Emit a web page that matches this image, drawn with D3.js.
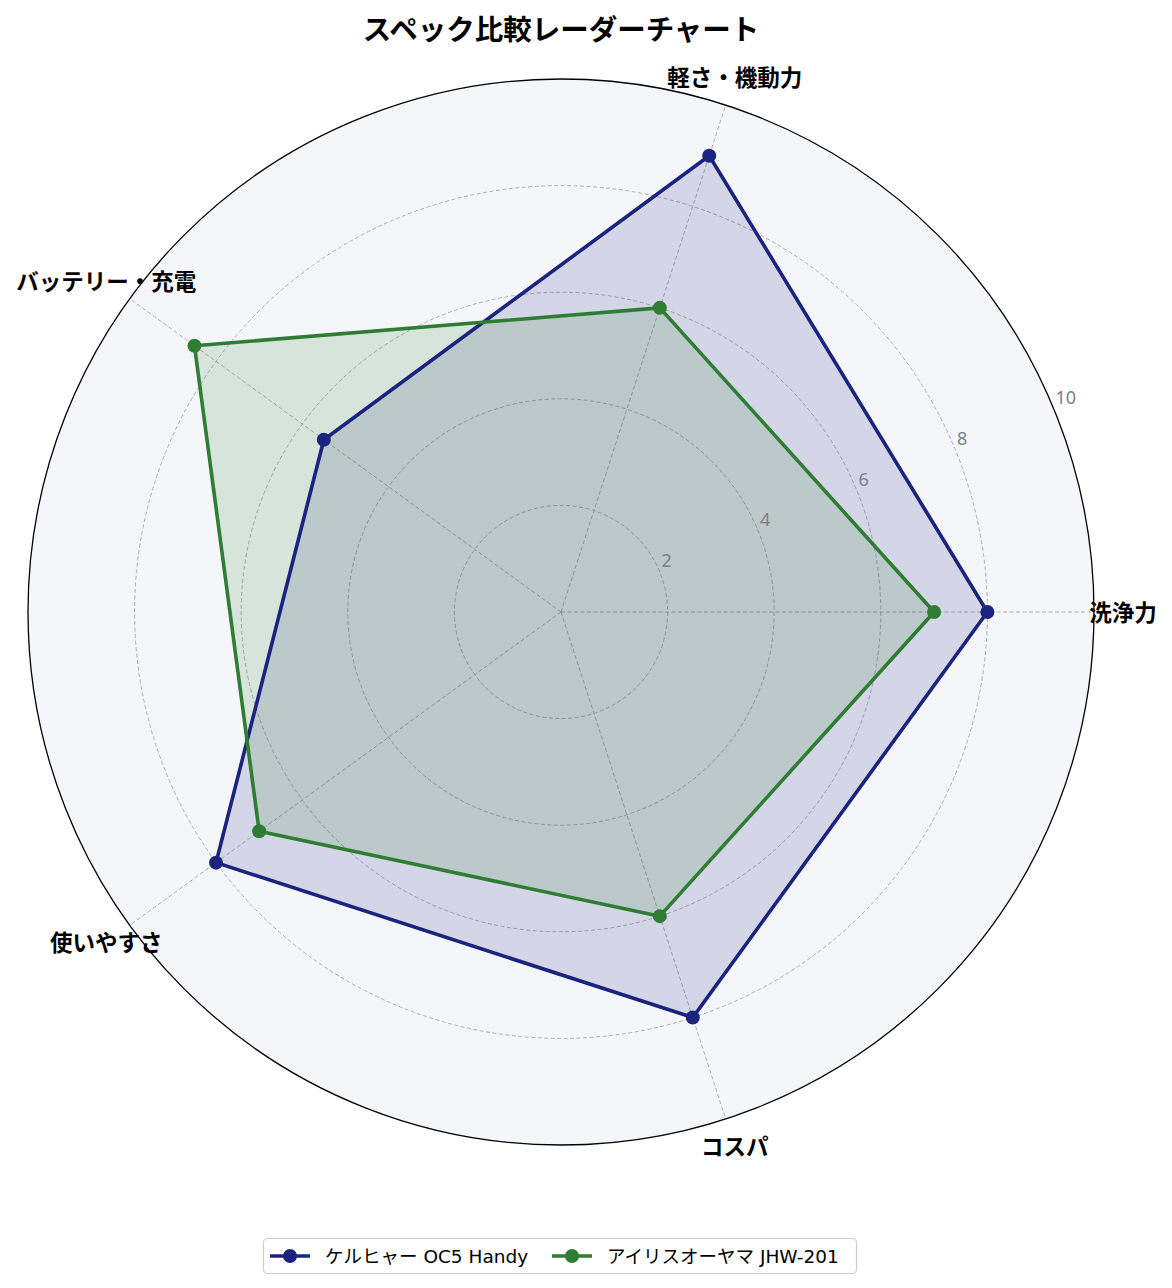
<!DOCTYPE html>
<html>
<head>
<meta charset="utf-8">
<script src="https://cdn.jsdelivr.net/npm/d3@7"></script>
<style>
  html, body { margin: 0; padding: 0; background: #fff; }
  svg { display: block; font-family: "Noto Sans", "Noto Sans CJK JP", sans-serif; }
  .legend-text { font-family: "DejaVu Sans", "Noto Sans CJK JP", sans-serif; }
</style>
</head>
<body>
<div id="chart"></div>
<script>
// ---------- Data ----------
const TITLE = "スペック比較レーダーチャート";
const CATEGORIES = ["洗浄力", "軽さ・機動力", "バッテリー・充電", "使いやすさ", "コスパ"];
const SERIES_NAMES = ["ケルヒャー OC5 Handy", "アイリスオーヤマ JHW-201"];
const KARCHER = [8, 9, 5.5, 8, 8];
const IRIS = [7, 6, 8.5, 7, 6];
const R_TICKS = [2, 4, 6, 8, 10];
const R_MAX = 10;

const COLORS = ["#1a237e", "#2e7d32"];

// ---------- Layout ----------
const width = 1172, height = 1288;
const cx = 561, cy = 612, R = 533;

const svg = d3.select("#chart").append("svg")
  .attr("width", width).attr("height", height);

const r = d3.scaleLinear().domain([0, R_MAX]).range([0, R]);
// angle 0 points right, categories go counter-clockwise
const angle = d3.scaleLinear().domain([0, CATEGORIES.length]).range([0, 2 * Math.PI]);
const px = (i, v) => cx + r(v) * Math.cos(angle(i));
const py = (i, v) => cy - r(v) * Math.sin(angle(i));

// background disc
svg.append("circle")
  .attr("cx", cx).attr("cy", cy).attr("r", r(R_MAX))
  .attr("fill", "#f5f6fa");

// grid circles
svg.append("g").selectAll("circle")
  .data(R_TICKS.filter(t => t < R_MAX))
  .join("circle")
    .attr("cx", cx).attr("cy", cy)
    .attr("r", d => r(d))
    .attr("fill", "none")
    .attr("stroke", "#a6a6a6")
    .attr("stroke-width", 0.9)
    .attr("stroke-dasharray", "4,2.5");

// spokes
svg.append("g").selectAll("line")
  .data(CATEGORIES)
  .join("line")
    .attr("x1", cx).attr("y1", cy)
    .attr("x2", (d, i) => px(i, R_MAX))
    .attr("y2", (d, i) => py(i, R_MAX))
    .attr("stroke", "#a6a6a6")
    .attr("stroke-width", 0.9)
    .attr("stroke-dasharray", "4,2.5");

// series polygons
const line = d3.line().curve(d3.curveLinearClosed);
[KARCHER, IRIS].forEach((vals, s) => {
  const pts = vals.map((v, i) => [px(i, v), py(i, v)]);
  svg.append("path")
    .attr("d", line(pts))
    .attr("fill", COLORS[s])
    .attr("fill-opacity", 0.15)
    .attr("stroke", "none");
});
[KARCHER, IRIS].forEach((vals, s) => {
  const pts = vals.map((v, i) => [px(i, v), py(i, v)]);
  svg.append("path")
    .attr("d", line(pts))
    .attr("fill", "none")
    .attr("stroke", COLORS[s])
    .attr("stroke-width", 3.6)
    .attr("stroke-linejoin", "round");
  svg.append("g").selectAll("circle")
    .data(pts)
    .join("circle")
      .attr("cx", d => d[0]).attr("cy", d => d[1])
      .attr("r", 7)
      .attr("fill", COLORS[s]);
});

// outer frame
svg.append("circle")
  .attr("cx", cx).attr("cy", cy).attr("r", r(R_MAX))
  .attr("fill", "none")
  .attr("stroke", "#000")
  .attr("stroke-width", 1.3);

// radial tick labels (at 22.5deg)
const labAng = 22.5 * Math.PI / 180;
svg.append("g").selectAll("text")
  .data(R_TICKS)
  .join("text")
    .attr("x", d => cx + r(d) * Math.cos(labAng) + 2)
    .attr("y", d => cy - r(d) * Math.sin(labAng) - 4)
    .attr("text-anchor", "start")
    .attr("font-size", 18)
    .attr("fill", "#808080")
    .text(d => d);

// category labels
svg.append("g").selectAll("text")
  .data(CATEGORIES)
  .join("text")
    .attr("x", (d, i) => cx + 562 * Math.cos(angle(i)))
    .attr("y", (d, i) => cy - 562 * Math.sin(angle(i)))
    .attr("text-anchor", "middle")
    .attr("dominant-baseline", "central")
    .attr("font-size", 22.5)
    .attr("font-weight", "bold")
    .attr("fill", "#000")
    .text(d => d);

// title
svg.append("text")
  .attr("x", cx).attr("y", 29)
  .attr("text-anchor", "middle")
  .attr("dominant-baseline", "central")
  .attr("font-size", 28.5)
  .attr("font-weight", "bold")
  .text(TITLE);

// legend
const legend = svg.append("g");
legend.append("rect")
  .attr("x", 263.5).attr("y", 1238.5)
  .attr("width", 593).attr("height", 35)
  .attr("rx", 4)
  .attr("fill", "#fff")
  .attr("stroke", "#cccccc")
  .attr("stroke-width", 1.2);
const LEG_X = [270, 552];
SERIES_NAMES.forEach((name, s) => {
  const g = legend.append("g").attr("transform", `translate(${LEG_X[s]},1256)`);
  g.append("line")
    .attr("x1", 0).attr("x2", 40)
    .attr("stroke", COLORS[s]).attr("stroke-width", 3.6);
  g.append("circle").attr("cx", 20).attr("r", 7).attr("fill", COLORS[s]);
  g.append("text")
    .attr("class", "legend-text")
    .attr("x", 55).attr("y", 0)
    .attr("dominant-baseline", "central")
    .attr("font-size", 18.5)
    .attr("fill", "#000")
    .text(name);
});
</script>
</body>
</html>
